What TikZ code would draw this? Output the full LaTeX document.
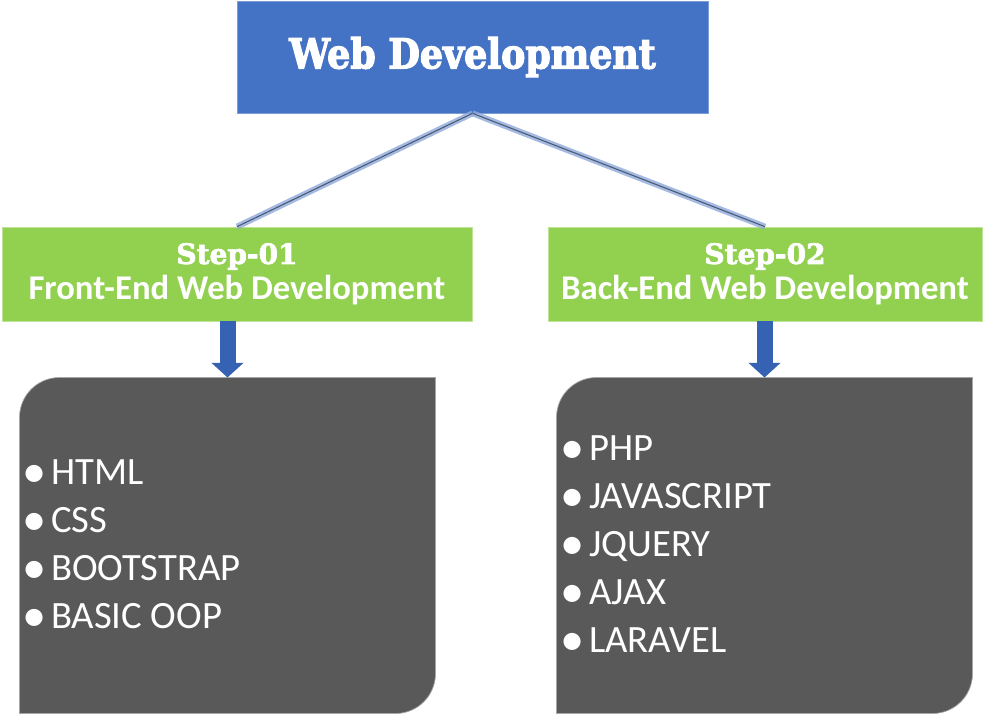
\documentclass[tikz,border=0pt]{standalone}
\usepackage{fontspec}
\usepackage{graphicx}
\setmainfont{Carlito}
\newfontfamily\headfont{DejaVu Serif}[UprightFont={* Bold}, FakeBold=3, FakeStretch=0.88]
\newfontfamily\stepfont{DejaVu Serif}[UprightFont={* Bold}, FakeBold=2.5]
\usetikzlibrary{arrows.meta,calc}

\definecolor{topblue}{HTML}{4472C4}
\definecolor{stepgreen}{HTML}{92D050}
\definecolor{boxgray}{HTML}{595959}
\definecolor{arrowblue}{HTML}{3562B2}
\definecolor{linkgray}{HTML}{4A5870}
\definecolor{glowblue}{HTML}{8EA9DB}

\newcommand{\steptitle}{\stepfont\fontsize{21}{24}\selectfont}
\newcommand{\stepsub}{\bfseries\fontsize{26}{28}\selectfont}
\newcommand{\itemdot}{\raisebox{-0.06em}{\scalebox{1.25}{\textbullet}}\hspace{0.13em}}

\tikzset{every picture/.style={line width=0.75pt}}
\tikzset{
  topbox/.style={rectangle, fill=topblue, draw=topblue!70!white, line width=0.5pt, minimum width=353.25pt, minimum height=84pt, inner sep=0pt, text=white, font=\headfont\fontsize{31}{33}\selectfont},
  stepbox/.style={rectangle, fill=stepgreen, draw=stepgreen!60!white, line width=0.5pt, minimum height=70.5pt, inner sep=0pt, text=white, align=center},
  listbox/.style={rectangle, minimum width=311.25pt, minimum height=251.25pt, inner sep=0pt},
  listtext/.style={anchor=west, text=white, align=left, inner sep=0pt, font=\fontsize{29}{36}\selectfont},
  glow/.style={line width=4.5pt, glowblue, opacity=0.8},
  link/.style={line width=0.8pt, linkgray},
  downarrow/.style={arrowblue, line width=12pt, -{Triangle[width=23.5pt,length=11pt]}}
}

\begin{document}
\begin{tikzpicture}[x=0.75pt,y=0.75pt,yscale=-1]
		\useasboundingbox (0,0) rectangle (991,713);
		
		%Top box
		\node[topbox] (web) at (472.5,57) {Web Development};
		
		%Step boxes
		\node[stepbox, minimum width=352.5pt] (front) at (237,274) {{\steptitle Step-01}\\[3pt]{\stepsub Front-End Web Development}};
		\node[stepbox, minimum width=325.5pt] (back) at (765,274) {{\steptitle Step-02}\\[3pt]{\stepsub Back-End Web Development}};
		
		%Links from top box
		\draw[glow] (web.south) -- (front.north);
		\draw[link] (web.south) -- (front.north);
		\draw[glow] (web.south) -- (back.north);
		\draw[link] (web.south) -- (back.north);
		
		%List boxes
		\node[listbox] (fbox) at (227.5,545.5) {};
		\node[listbox] (bbox) at (764.5,545.5) {};
		\filldraw[boxgray, draw=gray!70, line width=0.5pt] (fbox.south west) -- ($(fbox.north west)+(0,40)$) arc(180:270:40) -- (fbox.north east) -- ($(fbox.south east)+(0,-40)$) arc(0:90:40) -- cycle;
		\filldraw[boxgray, draw=gray!70, line width=0.5pt] (bbox.south west) -- ($(bbox.north west)+(0,40)$) arc(180:270:40) -- (bbox.north east) -- ($(bbox.south east)+(0,-40)$) arc(0:90:40) -- cycle;
		
		%Arrows
		\draw[downarrow] (fbox.north |- front.south) -- (fbox.north);
		\draw[downarrow] (bbox.north |- back.south) -- (bbox.north);
		
		%Lists
		\node[listtext] (flist) at ($(fbox.west)+(2,0)$) {\itemdot HTML\\\itemdot CSS\\\itemdot BOOTSTRAP\\\itemdot BASIC OOP};
		\node[listtext] (blist) at ($(bbox.west)+(3,0)$) {\itemdot PHP\\\itemdot JAVASCRIPT\\\itemdot JQUERY\\\itemdot AJAX\\\itemdot LARAVEL};
	\end{tikzpicture}
\end{document}
